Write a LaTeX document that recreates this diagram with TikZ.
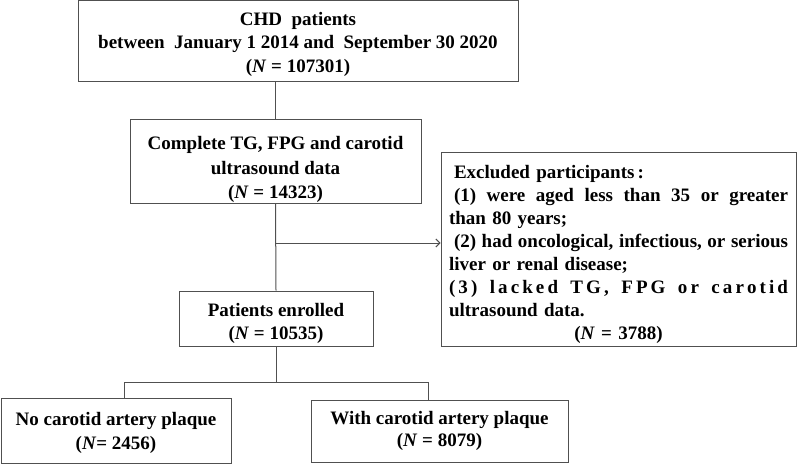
\documentclass[tikz,border=0pt]{standalone}
\usepackage{fontspec}
\setmainfont{Liberation Serif}
\usetikzlibrary{arrows.meta}
\definecolor{framegray}{HTML}{505050}
% spread glue for the justified lines
\newcommand{\lgap}{\hspace{0pt plus 1fil}}
\newcommand{\wgap}{\hspace{0pt plus 4fil}}
\newcommand{\sgap}{\hspace{0.25em plus 1fil minus 0.1em}}
% invisible strut that pushes a box's text down
\newcommand{\topstrut}[1]{\rule{0pt}{#1pt}}

\begin{document}
\begin{tikzpicture}[x=1pt,y=-1pt,
    flowbox/.style={draw=framegray, line width=1pt, inner sep=0pt, align=center,
        font=\fontsize{19}{23.5}\selectfont\bfseries},
    link/.style={draw=framegray, line width=1pt}]
    \useasboundingbox (0,0) rectangle (797,465);

    % Main flow boxes
    \node[flowbox, minimum width=440, minimum height=81] (chd) at (298,41.5)
        {\topstrut{19}CHD\ \ patients\\ between\ \ January 1 2014 and\ \ September 30 2020\\ (\textit{N} = 107301)};
    \node[flowbox, minimum width=291, minimum height=77,
        font=\fontsize{19}{24.5}\selectfont\bfseries] (complete) at (275.5,161.5)
        {\topstrut{30}Complete TG, FPG and carotid\\ ultrasound data\\ (\textit{N} = 14323)};
    \node[flowbox, minimum width=194, minimum height=55] (enrolled) at (276,318.5)
        {\topstrut{23}Patients enrolled\\ (\textit{N} = 10535)};
    \node[flowbox, minimum width=230, minimum height=65] (noplaque) at (116,430.5)
        {\topstrut{18}No carotid artery plaque\\ (\textit{N}= 2456)};
    \node[flowbox, minimum width=257, minimum height=62,
        font=\fontsize{19}{22.5}\selectfont\bfseries] (plaque) at (439.5,431)
        {With carotid artery plaque\\ (\textit{N} = 8079)};

    % Exclusion box
    \node[flowbox, align=left, text width=339pt, inner xsep=8pt, minimum height=193,
        font=\fontsize{19}{22.9}\selectfont\bfseries] (excl) at (618.5,249.5)
        {\topstrut{23}\hspace*{5pt}Excluded participants\,:\\
         \makebox[339pt][s]{\hspace*{5pt}(1)\sgap were\sgap aged\sgap less\sgap than\sgap 35\sgap or\sgap greater}\\
         than 80 years;\\
         \makebox[339pt][s]{\hspace*{5pt}(2)\sgap had\sgap oncological,\sgap infectious,\sgap or\sgap serious}\\
         liver or renal disease;\\
         \makebox[339pt][s]{(\lgap3\lgap)\wgap l\lgap a\lgap c\lgap k\lgap e\lgap d\wgap
            T\lgap G\lgap,\wgap F\lgap P\lgap G\wgap o\lgap r\wgap
            c\lgap a\lgap r\lgap o\lgap t\lgap i\lgap d}\\
         ultrasound data.\\
         \makebox[339pt][c]{(\textit{N} = 3788)}};

    % Connectors
    \coordinate (branch) at (276,243);
    \coordinate (split) at (276,382);
    \draw[link] (complete.north |- chd.south) -- (complete.north);
    \draw[link] (complete.south) -- (enrolled.north);
    \draw[link, -{Straight Barb[length=4pt,width=8pt]}] (branch) -- (branch -| excl.west);
    \draw[link] (enrolled.south) -- (split);
    \draw[link] (split) -| ([xshift=8pt]noplaque.north);
    \draw[link] (split) -| ([xshift=-11.5pt]plaque.north);
\end{tikzpicture}
\end{document}
